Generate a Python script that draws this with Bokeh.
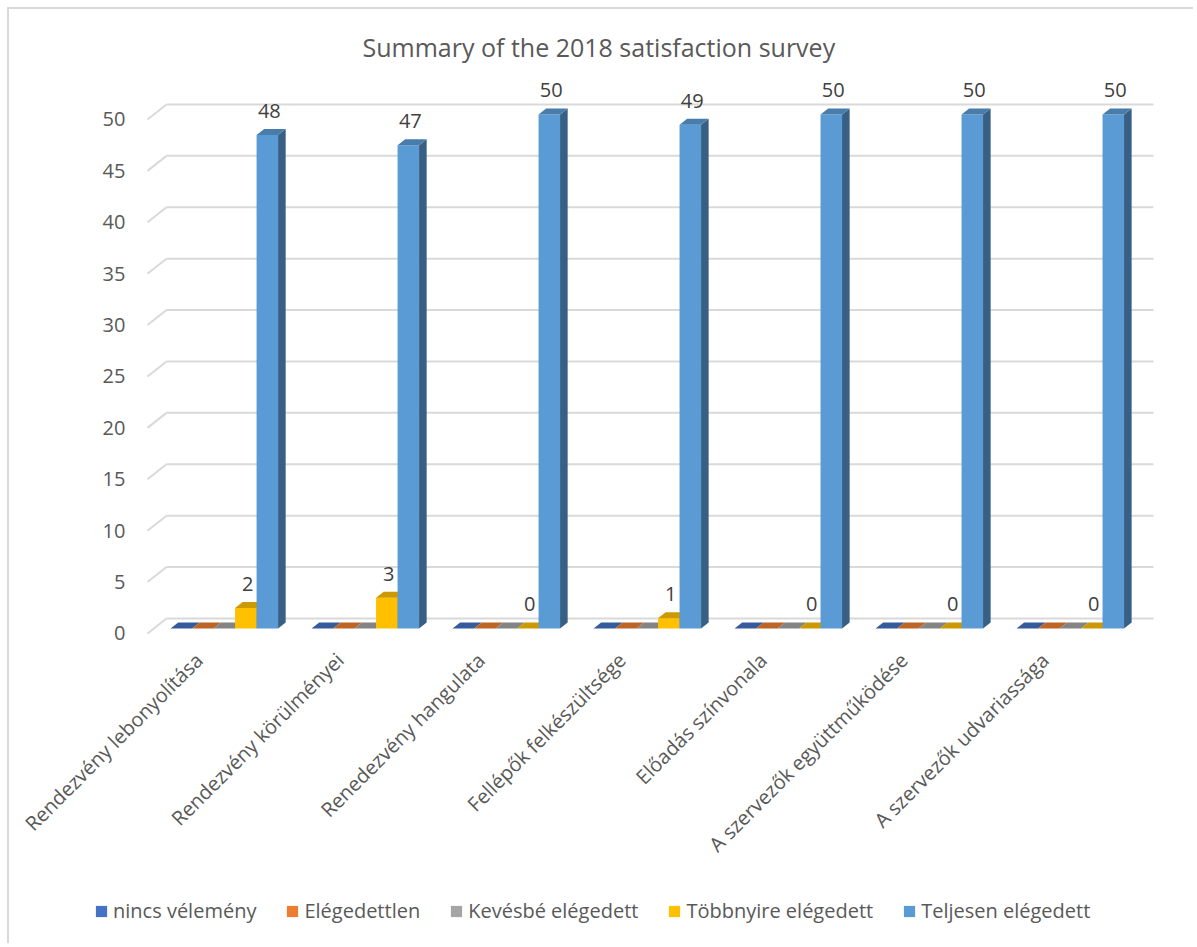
import math
from bokeh.plotting import figure
from bokeh.models import Legend, LegendItem, ColumnDataSource
from bokeh.core.properties import value
from bokeh.embed import file_html
from bokeh.resources import INLINE

# ---------------- data ----------------
title_text = "Summary of the 2018 satisfaction survey"
categories = [
    "Rendezvény lebonyolítása",
    "Rendezvény körülményei",
    "Renedezvény hangulata",
    "Fellépők felkészültsége",
    "Előadás színvonala",
    "A szervezők együttműködése",
    "A szervezők udvariassága",
]
series_names = ["nincs vélemény", "Elégedettlen", "Kevésbé elégedett",
                "Többnyire elégedett", "Teljesen elégedett"]
nincs_velemeny = [0, 0, 0, 0, 0, 0, 0]
elegedettlen = [0, 0, 0, 0, 0, 0, 0]
kevesbe_elegedett = [0, 0, 0, 0, 0, 0, 0]
tobbnyire_elegedett = [2, 3, 0, 1, 0, 0, 0]
teljesen_elegedett = [48, 47, 50, 49, 50, 50, 50]
y_ticks = [0, 5, 10, 15, 20, 25, 30, 35, 40, 45, 50]
y_tick_labels = [str(t) for t in y_ticks]
series_values = [nincs_velemeny, elegedettlen, kevesbe_elegedett,
                 tobbnyire_elegedett, teljesen_elegedett]
series_labelled = [False, False, False, True, True]
series_colors = ["#4472C4", "#ED7D31", "#A5A5A5", "#FFC000", "#5B9BD5"]

# ---------------- style / geometry ----------------
FONT = "Open Sans"
TXT = "#595959"
LBL = "#404040"
GRID = "#D9D9D9"
DX, DY = 0.1348, 1.46          # depth of the floor in data units
F0, F1 = 0.333, 0.733          # bar depth (front, back) as fractions of floor depth
BAR_W = 0.1525
CLUSTER = BAR_W * len(series_names)


def shade(hex_color, k):
    h = hex_color.lstrip("#")
    r, g, b = (int(h[i:i + 2], 16) for i in (0, 2, 4))
    return "#%02X%02X%02X" % (int(r * k), int(g * k), int(b * k))


n = len(categories)
p = figure(width=1186, height=936,
           x_range=(-1.4787, 6.933), y_range=(-30.35, 53.79),
           output_backend="svg", toolbar_location=None,
           x_axis_location=None, y_axis_location=None,
           min_border_left=0, min_border_right=0,
           min_border_top=71, min_border_bottom=0,
           outline_line_color=None, background_fill_color="white",
           border_fill_color="white", margin=(7, 0, 0, 7))
p.styles = {"border-top": "2px solid #D9D9D9", "border-left": "2px solid #D9D9D9"}
p.grid.grid_line_color = None

# title
p.title.text = title_text
p.title.align = "left"
p.title.offset = 353
p.title.text_font = FONT
p.title.text_font_size = "25px"
p.title.text_font_style = "normal"
p.title.text_color = TXT
p.title.standoff = 34

# value-axis tick labels (at the front edge of the left wall)
x_left, x_right = -0.5, n - 0.5
p.text(x=[x_left] * len(y_ticks), y=y_ticks, text=y_tick_labels,
       x_offset=-22, text_align="right", text_baseline="middle",
       text_font=value(FONT), text_font_size="20px", text_color=TXT)

# gridlines: back wall lines + diagonal stubs on the left side wall
p.segment(x0=[x_left + DX] * len(y_ticks), y0=[t + DY for t in y_ticks],
          x1=[x_right + DX] * len(y_ticks), y1=[t + DY for t in y_ticks],
          line_color=GRID, line_width=2)
p.segment(x0=[x_left] * len(y_ticks), y0=y_ticks,
          x1=[x_left + DX] * len(y_ticks), y1=[t + DY for t in y_ticks],
          line_color=GRID, line_width=2)

legend_items = []
for s, (name, vals, col) in enumerate(zip(series_names, series_values, series_colors)):
    lefts = [i - CLUSTER / 2 + s * BAR_W for i in range(n)]
    rights = [l + BAR_W for l in lefts]
    front = dict(left=[l + F0 * DX for l in lefts], right=[r + F0 * DX for r in rights],
                 bottom=[F0 * DY] * n, top=[v + F0 * DY for v in vals])
    r_front = p.quad(source=ColumnDataSource(front), fill_color=col, line_color=None)
    side_xs, side_ys, top_xs, top_ys = [], [], [], []
    for l, r, v in zip(lefts, rights, vals):
        side_xs.append([r + F0 * DX, r + F1 * DX, r + F1 * DX, r + F0 * DX])
        side_ys.append([F0 * DY, F1 * DY, v + F1 * DY, v + F0 * DY])
        top_xs.append([l + F0 * DX, r + F0 * DX, r + F1 * DX, l + F1 * DX])
        top_ys.append([v + F0 * DY, v + F0 * DY, v + F1 * DY, v + F1 * DY])
    p.patches(xs=side_xs, ys=side_ys, fill_color=shade(col, 0.62), line_color=None)
    p.patches(xs=top_xs, ys=top_ys, fill_color=shade(col, 0.80), line_color=None)
    legend_items.append(LegendItem(label=name, renderers=[r_front]))
    if series_labelled[s]:
        src = ColumnDataSource(dict(
            x=[(l + r) / 2 + F0 * DX for l, r in zip(lefts, rights)],
            y=[v + F0 * DY for v in vals],
            t=[str(v) for v in vals]))
        p.text(x="x", y="y", text="t", source=src, x_offset=2, y_offset=-24,
               text_align="center", text_baseline="middle",
               text_font=value(FONT), text_font_size="20px", text_color=LBL)

# category labels (rotated)
cat_src = ColumnDataSource(dict(x=list(range(n)), y=[0] * n, t=categories))
p.text(x="x", y="y", text="t", source=cat_src, angle=math.pi / 4,
       x_offset=-19, y_offset=23, text_align="right", text_baseline="middle",
       text_font=value(FONT), text_font_size="20px", text_color=TXT)

legend = Legend(items=legend_items, orientation="horizontal", location=(85, 21),
                glyph_width=14, glyph_height=14, label_standoff=5, spacing=29,
                padding=0, margin=0, border_line_color=None,
                background_fill_alpha=0,
                label_text_font=FONT, label_text_font_size="20px",
                label_text_color=TXT)
p.add_layout(legend)

open("out.html", "w").write(file_html(p, INLINE))
